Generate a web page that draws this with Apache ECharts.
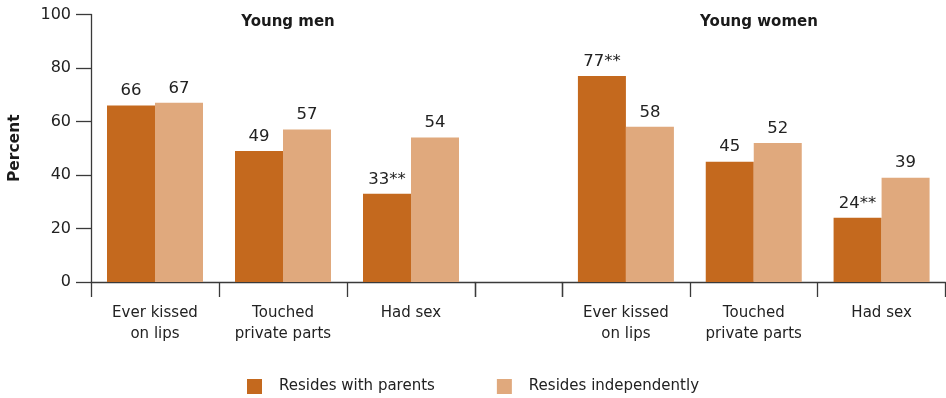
<!DOCTYPE html>
<html>
<head>
<meta charset="utf-8">
<script src="https://cdn.jsdelivr.net/npm/echarts@6/dist/echarts.min.js"></script>
<style>
  html, body { margin: 0; padding: 0; background: #fff; }
  #chart { width: 946px; height: 398px; }
</style>
</head>
<body>
<div id="chart"></div>
<script>
// Behaviours by living arrangement, split by sex
const categories = ['Ever kissed\non lips', 'Touched\nprivate parts', 'Had sex'];
const panelTitles = ['Young men', 'Young women'];
const seriesNames = ['Resides with parents', 'Resides independently'];

const menWithParents = [66, 49, 33];
const menIndependent = [67, 57, 54];
const womenWithParents = [77, 45, 24];
const womenIndependent = [58, 52, 39];

// significance markers appended to value labels
const menWithParentsMarks = ['', '', '**'];
const womenWithParentsMarks = ['**', '', '**'];

const yTicks = [0, 20, 40, 60, 80, 100];

const DARK = '#C4691E';
const LIGHT = '#E0A97D';
const AXIS = '#3a3a3a';
const TEXT = '#222';
const FONT = 'DejaVu Sans';

const chart = echarts.init(document.getElementById('chart'));

const plotTop = 14.5, plotHeight = 267.5;
const grids = [
  { left: 91, top: plotTop, width: 384, height: plotHeight },
  { left: 475, top: plotTop, width: 87, height: plotHeight },
  { left: 562, top: plotTop, width: 383.5, height: plotHeight }
];

function catAxis(gridIndex, data) {
  return {
    type: 'category', gridIndex, data,
    axisLine: { show: true, lineStyle: { color: AXIS, width: 1.3 } },
    axisTick: { show: true, length: 15, alignWithLabel: false, lineStyle: { color: AXIS, width: 1.3 } },
    axisLabel: { color: TEXT, fontFamily: FONT, fontSize: 15, lineHeight: 21, margin: 21 }
  };
}

function valAxis(gridIndex, visible) {
  return {
    type: 'value', gridIndex, min: yTicks[0], max: yTicks[yTicks.length - 1], interval: 20,
    show: visible,
    splitLine: { show: false },
    axisLine: { show: visible, lineStyle: { color: AXIS, width: 1.3 } },
    axisTick: { show: visible, length: 15, lineStyle: { color: AXIS, width: 1.3 } },
    axisLabel: { show: visible, color: TEXT, fontFamily: FONT, fontSize: 16, margin: 20 },
    name: visible ? 'Percent' : '',
    nameLocation: 'middle', nameGap: 68, nameRotate: 90,
    nameTextStyle: { color: '#1a1a1a', fontFamily: FONT, fontSize: 15.5, fontWeight: 'bold' }
  };
}

function barSeries(name, xi, values, color, marks) {
  return {
    name, type: 'bar', xAxisIndex: xi, yAxisIndex: xi,
    data: values, barWidth: 48, barGap: '0%',
    itemStyle: { color },
    label: {
      show: true, position: 'top', distance: 6,
      color: TEXT, fontFamily: FONT, fontSize: 16.5,
      formatter: p => p.value + (marks ? marks[p.dataIndex] : '')
    },
    emphasis: { disabled: true }
  };
}

chart.setOption({
  animation: false,
  grid: grids,
  title: [
    { text: panelTitles[0], left: 283, top: 10, textAlign: 'center',
      textStyle: { fontFamily: FONT, fontSize: 15, fontWeight: 'bold', color: '#1a1a1a' } },
    { text: panelTitles[1], left: 754, top: 10, textAlign: 'center',
      textStyle: { fontFamily: FONT, fontSize: 15, fontWeight: 'bold', color: '#1a1a1a' } }
  ],
  legend: {
    data: seriesNames, left: 247, top: 379, padding: 0,
    icon: 'rect', itemWidth: 15, itemHeight: 15, itemGap: 62,
    textStyle: { fontFamily: FONT, fontSize: 15, color: TEXT, padding: [0, 0, 0, 12] },
    selectedMode: false
  },
  xAxis: [catAxis(0, categories), catAxis(1, ['']), catAxis(2, categories)],
  yAxis: [valAxis(0, true), valAxis(1, false), valAxis(2, false)],
  series: [
    barSeries(seriesNames[0], 0, menWithParents, DARK, menWithParentsMarks),
    barSeries(seriesNames[1], 0, menIndependent, LIGHT, null),
    barSeries(seriesNames[0], 2, womenWithParents, DARK, womenWithParentsMarks),
    barSeries(seriesNames[1], 2, womenIndependent, LIGHT, null)
  ]
});
</script>
</body>
</html>
